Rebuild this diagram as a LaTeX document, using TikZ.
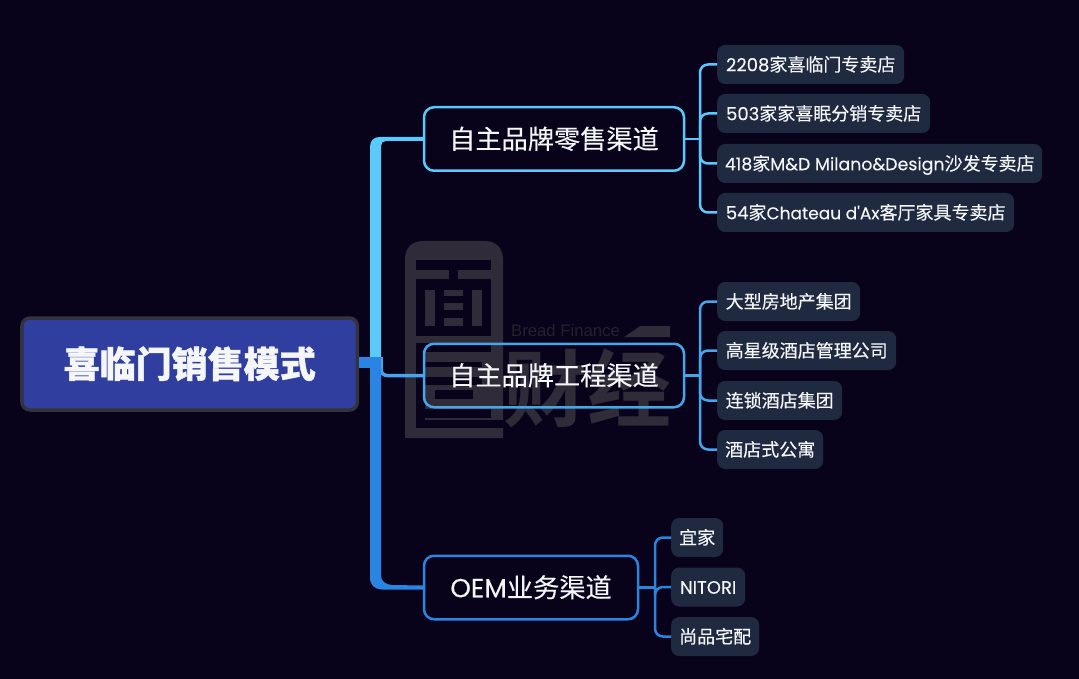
\documentclass[tikz,border=0pt]{standalone}
\usepackage{fontspec}
\usepackage{xcolor}
\usetikzlibrary{calc}
\setmainfont[FakeBold=0.25]{Noto Sans CJK SC}
\newfontfamily\latf[FakeBold=0.1]{Poppins}
\newfontfamily\latg[Scale=0.965,FakeBold=0.1]{Poppins}
\newfontfamily\lath[Scale=0.945,FakeBold=0.1]{Poppins}
\newfontfamily\cjkblack[FakeBold=1.2]{Noto Sans CJK SC Black}
\newfontfamily\cjkbold{Noto Sans CJK SC Bold}
\newfontfamily\wmlat{Liberation Sans}
\newcommand{\la}[1]{{\latf #1}}
\newcommand{\lb}[1]{{\latg #1}}
\newcommand{\lc}[1]{{\lath #1}}
\definecolor{bgdark}{HTML}{08021A}
\definecolor{wmark}{HTML}{2F2B38}
\definecolor{wmtext}{HTML}{25222F}
\definecolor{rootfill}{HTML}{303F9F}
\definecolor{rootline}{HTML}{33323F}
\definecolor{leaffill}{HTML}{1F2A40}
\definecolor{linkA}{HTML}{5ACAFC}
\definecolor{linkB}{HTML}{44A6EC}
\definecolor{linkC}{HTML}{2A84E2}
\definecolor{txtwhite}{HTML}{F4F6FA}
\tikzset{
	rootbox/.style={draw=rootline, fill=rootfill, line width=3.5pt, rounded corners=8pt, minimum width=335.5pt, minimum height=92pt, inner sep=0pt, outer sep=1.75pt, text=txtwhite, text height=31pt, text depth=4pt, font=\cjkblack\fontsize{36}{36}\selectfont},
	brandbox/.style={line width=2.5pt, rounded corners=10pt, minimum height=63.5pt, inner sep=0pt, outer sep=1.25pt, text=txtwhite, text height=22.5pt, text depth=3pt, font=\fontsize{26.2}{26.2}\selectfont},
	leafbox/.style={fill=leaffill, rounded corners=8pt, minimum height=39pt, inner sep=0pt, anchor=west, text=txtwhite, text height=15.5pt, text depth=2pt, font=\fontsize{18}{18}\selectfont},
	leaflink/.style={line width=2.5pt, rounded corners=8pt},
	wmpart/.style={fill=wmark, draw=none},
	wmcut/.style={fill=bgdark, draw=none}
}
\begin{document}
\begin{tikzpicture}[x=1pt,y=-1pt]
	\fill[bgdark] (0,0) rectangle (1079,679);
	\useasboundingbox (0,0) rectangle (1079,679);
	% watermark
	\fill[wmpart] (405,438) -- (405,259) .. controls (405,248) and (412,241) .. (423,241) -- (485,241) .. controls (496,241) and (503,248) .. (503,259) -- (503,438) -- cycle;
	\fill[wmcut] (416,260) rectangle (491,270);
	\fill[wmcut] (449,270) rectangle (458,279);
	\fill[wmcut] (416,279) rectangle (491,336);
	\fill[wmpart] (425,290) rectangle (435,326);
	\fill[wmpart] (472,290) rectangle (482,326);
	\fill[wmpart] (444,290) rectangle (463,296);
	\fill[wmpart] (444,303) rectangle (463,310);
	\fill[wmpart] (444,318) rectangle (463,326);
	\fill[wmcut] (416,343) rectangle (491,352);
	\fill[wmcut] (416,362) rectangle (482,367);
	\fill[wmcut] (416,377) rectangle (482,385);
	\fill[wmcut] (435,390) rectangle (473,399);
	\fill[wmcut] (416,409) rectangle (491,418);
	\fill[wmcut] (416,343) rectangle (425,428);
	\fill[wmcut] (416,420) rectangle (503,428);
	\node[text=wmtext, font=\wmlat\fontsize{16.7}{16.7}\selectfont, anchor=west, inner sep=0pt] (wmEn) at (511,331) {Bread Finance};
	\fill[wmpart] (624,337) -- (640,326) -- (670,326) -- (670,337) -- cycle;
	\node[text=wmark, font=\cjkbold\fontsize{84}{84}\selectfont, anchor=center, inner sep=0pt] (wmCn) at (587,388) {财经};
	% main nodes
	\node[rootbox] (root) at (189.7,364) {喜临门销售模式};
	\node[brandbox, draw=linkA, minimum width=260pt] (retail) at (554,139) {自主品牌零售渠道};
	\node[brandbox, draw=linkB, minimum width=260pt] (project) at (554,375.5) {自主品牌工程渠道};
	\node[brandbox, draw=linkC, minimum width=214pt] (oem) at (531,587.5) {\la{OEM}业务渠道};
	% leaves
	\node[leafbox, minimum width=187pt] (leafA1) at (717,64.5) {\la{2208}家喜临门专卖店};
	\node[leafbox, minimum width=213pt] (leafA2) at (717,113.5) {\la{503}家家喜眠分销专卖店};
	\node[leafbox, minimum width=325pt] (leafA3) at (717,163.5) {\lb{418}家\lb{M\&D Milano\&Design}沙发专卖店};
	\node[leafbox, minimum width=297pt] (leafA4) at (717,212.5) {\la{54}家\lc{Chateau d'Ax}客厅家具专卖店};
	\node[leafbox, minimum width=143pt] (leafB1) at (717,301.5) {大型房地产集团};
	\node[leafbox, minimum width=179pt] (leafB2) at (717,350.5) {高星级酒店管理公司};
	\node[leafbox, minimum width=125pt] (leafB3) at (717,400.5) {连锁酒店集团};
	\node[leafbox, minimum width=106pt] (leafB4) at (717,449.5) {酒店式公寓};
	\node[leafbox, minimum width=52pt] (leafC1) at (671,537.5) {宜家};
	\node[leafbox, minimum width=74pt] (leafC2) at (671,587) {\la{NITORI}};
	\node[leafbox, minimum width=88pt] (leafC3) at (671,636.5) {尚品宅配};
	% trunk
	\coordinate (hubTop) at (381,357);
	\coordinate (hubLow) at (381,368);
	\draw[linkB, line width=3.5pt, rounded corners=6pt] (hubTop) |- (project.west);
	\fill[linkA] (370,357) -- (370,147) .. controls (370,140) and (374,137) .. (380,137) -- ($(retail.west)+(0,-2)$) -- ($(retail.west)+(0,2)$) -- (386,141) .. controls (383,141) and (381,143) .. (381,146) -- (hubTop) -- cycle;
	\fill[linkC] (370,368) -- (370,577) .. controls (370,585) and (374,589) .. (382,589.5) -- ($(oem.west)+(0,2)$) -- ($(oem.west)+(0,-2)$) -- (392,585) .. controls (385,584.5) and (381,581) .. (381,575) -- (hubLow) -- cycle;
	\fill[linkC] (root.east |- hubTop) rectangle (hubLow);
	% branches
	\foreach \brand/\hub/\col/\leaves in {retail/700/linkA/{leafA1,leafA2,leafA3,leafA4}, project/700/linkB/{leafB1,leafB2,leafB3,leafB4}, oem/655/linkC/{leafC1,leafC2,leafC3}}{
		\coordinate (hub\brand) at (\hub,0);
		\draw[\col, line width=2.5pt] (\brand.east) -- (\brand.east -| hub\brand);
		\foreach \leaf in \leaves {
			\draw[leaflink, \col] (\brand.east -| hub\brand) |- (\leaf.west);
		}
	}
\end{tikzpicture}
\end{document}
